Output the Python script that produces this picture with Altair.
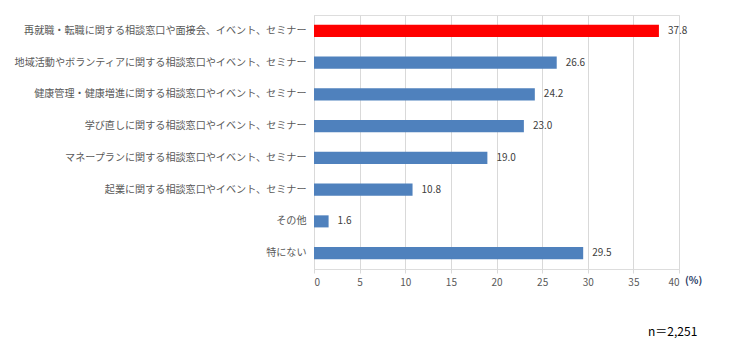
import altair as alt
import pandas as pd

categories = [
    "再就職・転職に関する相談窓口や面接会、イベント、セミナー",
    "地域活動やボランティアに関する相談窓口やイベント、セミナー",
    "健康管理・健康増進に関する相談窓口やイベント、セミナー",
    "学び直しに関する相談窓口やイベント、セミナー",
    "マネープランに関する相談窓口やイベント、セミナー",
    "起業に関する相談窓口やイベント、セミナー",
    "その他",
    "特にない",
]
values = [37.8, 26.6, 24.2, 23.0, 19.0, 10.8, 1.6, 29.5]
highlight = [True, False, False, False, False, False, False, False]
x_ticks = [0, 5, 10, 15, 20, 25, 30, 35, 40]

df = pd.DataFrame({"cat": categories, "val": values, "hl": highlight})
df["label"] = df["val"].map(lambda v: f"{v:.1f}")

FONT = "Noto Sans CJK JP"

base = alt.Chart(df).encode(
    y=alt.Y("cat:N", sort=categories, title=None,
            scale=alt.Scale(paddingInner=0.62, paddingOuter=0.31),
            axis=alt.Axis(ticks=False, domain=True, domainColor="#d9d9d9",
                          labelPadding=8, labelFont=FONT, labelFontSize=10.1,
                          labelColor="#595959", labelLimit=400)),
)

bars = base.mark_bar().encode(
    x=alt.X("val:Q", title=None,
            scale=alt.Scale(domain=[0, 40], nice=False),
            axis=alt.Axis(values=x_ticks, grid=True, gridColor="#d9d9d9",
                          domain=False, ticks=True, tickColor="#d9d9d9", tickSize=4,
                          labelFont=FONT, labelFontSize=10, labelColor="#595959",
                          labelPadding=4)),
    color=alt.Color("hl:N", scale=alt.Scale(domain=[True, False],
                                            range=["#ff0000", "#4f81bd"]),
                    legend=None),
)

text = base.mark_text(align="left", dx=9, font=FONT, fontSize=10,
                      color="#404040").encode(
    x="val:Q", text="label:N")

pct = alt.Chart(pd.DataFrame({"t": ["(%)"]})).mark_text(
    font=FONT, fontSize=10, color="#1f3864", fontWeight="bold", align="left"
).encode(x=alt.value(371), y=alt.value(266), text="t:N")

n_label = alt.Chart(pd.DataFrame({"t": ["n＝2,251"]})).mark_text(
    font=FONT, fontSize=12, color="#000000", align="left"
).encode(x=alt.value(334), y=alt.value(317), text="t:N")

chart = alt.layer(bars, text, pct, n_label).properties(
    width=365, height=254,
    autosize=alt.AutoSizeParams(type="none"),
    padding={"left": 306, "top": 7, "right": 40, "bottom": 70},
).configure_view(stroke=None).configure(background="white")

chart.save("out.html", embed_options={"renderer": "svg", "actions": False})
